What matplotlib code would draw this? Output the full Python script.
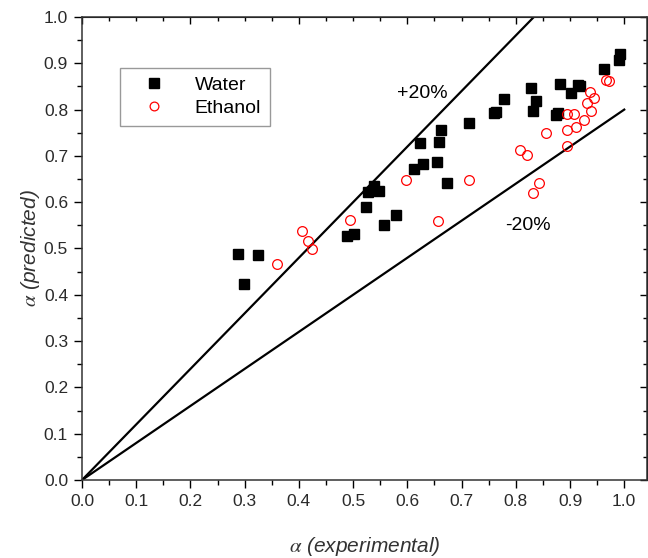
import numpy as np
import matplotlib
matplotlib.use("Agg")
import matplotlib.pyplot as plt
from matplotlib.ticker import MultipleLocator

plt.rcParams['font.family'] = ['Liberation Sans', 'DejaVu Sans']
plt.rcParams['mathtext.fontset'] = 'stix'

# data
water_x = [0.287, 0.324, 0.298, 0.488, 0.502, 0.557, 0.579, 0.524,
           0.527, 0.539, 0.547, 0.613, 0.628, 0.655, 0.674, 0.623,
           0.659, 0.663, 0.714, 0.760, 0.764, 0.779, 0.828, 0.832,
           0.837, 0.874, 0.877, 0.882, 0.901, 0.915, 0.919, 0.963,
           0.991, 0.993]
water_y = [0.488, 0.485, 0.423, 0.526, 0.532, 0.550, 0.572, 0.590,
           0.621, 0.636, 0.624, 0.671, 0.682, 0.686, 0.642, 0.728,
           0.731, 0.755, 0.771, 0.792, 0.795, 0.823, 0.847, 0.796,
           0.818, 0.788, 0.792, 0.856, 0.836, 0.853, 0.850, 0.887,
           0.908, 0.921]

ethanol_x = [0.359, 0.405, 0.416, 0.425, 0.494, 0.597, 0.657, 0.713,
             0.807, 0.820, 0.831, 0.842, 0.856, 0.894, 0.894, 0.895,
             0.907, 0.911, 0.926, 0.932, 0.937, 0.938, 0.945, 0.966,
             0.972]
ethanol_y = [0.467, 0.538, 0.517, 0.500, 0.561, 0.649, 0.559, 0.648,
             0.713, 0.703, 0.620, 0.641, 0.750, 0.791, 0.755, 0.721,
             0.791, 0.762, 0.778, 0.815, 0.839, 0.798, 0.825, 0.864,
             0.861]

upper_factor = 1.2
lower_factor = 0.8

fig = plt.figure(figsize=(6.48, 5.58), dpi=100)
ax = fig.add_axes([82 / 648, 1 - 480 / 558, 565 / 648, 463 / 558])

# +/-20% lines
xl = np.array([0.0, 1.0])
ax.plot(xl, upper_factor * xl, color='black', lw=1.6, zorder=1)
ax.plot(xl, lower_factor * xl, color='black', lw=1.6, zorder=1)

ax.plot(water_x, water_y, 's', color='black', ms=7.5, ls='none',
        label='Water', zorder=3)
ax.plot(ethanol_x, ethanol_y, 'o', mfc='none', mec='red', mew=0.9, ms=7,
        ls='none', label='Ethanol', zorder=3)

ax.text(0.627, 0.834, '+20%', fontsize=14, ha='center', va='center')
ax.text(0.823, 0.549, '-20%', fontsize=14, ha='center', va='center')

ax.set_xlim(0, 1.042)
ax.set_ylim(0, 1.0)

ax.set_xticks(np.arange(0, 1.01, 0.1))
ax.xaxis.set_minor_locator(MultipleLocator(0.05))
ax.yaxis.set_major_locator(MultipleLocator(0.1))
ax.yaxis.set_minor_locator(MultipleLocator(0.05))
ax.xaxis.set_major_formatter(plt.FormatStrFormatter('%.1f'))
ax.yaxis.set_major_formatter(plt.FormatStrFormatter('%.1f'))
ax.tick_params(which='major', direction='out', length=6, width=1,
               labelsize=12.5, labelcolor='#2a2a2a', pad=4)
ax.tick_params(which='minor', direction='out', length=3.5, width=1)

# inward ticks on top / right
for sec in (ax.secondary_xaxis('top'), ax.secondary_yaxis('right')):
    sec.tick_params(which='major', direction='in', length=5, width=1,
                    labelleft=False, labelright=False, labeltop=False,
                    labelbottom=False)
    sec.tick_params(which='minor', direction='in', length=3, width=1)
    sec.minorticks_on()

for s in ax.spines.values():
    s.set_linewidth(1.1)
    s.set_color('#333333')

ax.set_xlabel(r'$\alpha$ (experimental)', fontsize=15, style='italic',
              color='#333333', labelpad=19)
ax.set_ylabel(r'$\alpha$ (predicted)', fontsize=15, style='italic',
              color='#333333', labelpad=1)

leg = ax.legend(loc='upper left', bbox_to_anchor=(0.067, 0.890),
                borderaxespad=0, fancybox=False, fontsize=14,
                edgecolor='#999999', framealpha=1, handletextpad=0.8,
                handlelength=2.6, borderpad=0.45, labelspacing=0.25,
                markerscale=0.9)
leg.get_frame().set_linewidth(1.0)

fig.savefig('out.png', dpi=100)
